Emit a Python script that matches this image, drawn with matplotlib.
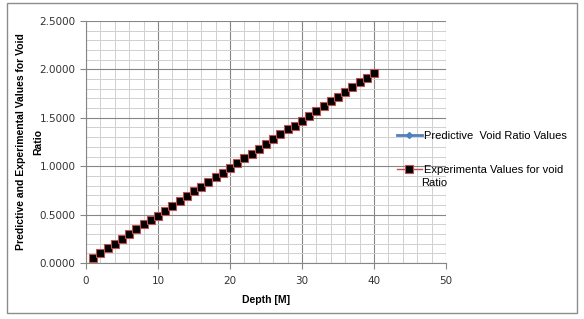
import numpy as np
import matplotlib.pyplot as plt
from matplotlib.patches import Rectangle

depth = list(range(1, 41))
experimental = [0.05, 0.10, 0.15, 0.20, 0.25, 0.30, 0.35, 0.40, 0.44, 0.49,
                0.54, 0.59, 0.64, 0.69, 0.74, 0.79, 0.84, 0.89, 0.93, 0.98,
                1.03, 1.08, 1.13, 1.18, 1.23, 1.28, 1.33, 1.38, 1.42, 1.47,
                1.52, 1.57, 1.62, 1.67, 1.72, 1.77, 1.82, 1.87, 1.91, 1.96]
predictive = [0.04, 0.09, 0.14, 0.19, 0.24, 0.29, 0.34, 0.39, 0.43, 0.48,
              0.53, 0.58, 0.63, 0.68, 0.73, 0.78, 0.83, 0.88, 0.92, 0.97,
              1.02, 1.07, 1.12, 1.17, 1.22, 1.27, 1.32, 1.37, 1.41, 1.46,
              1.51, 1.56, 1.61, 1.66, 1.71, 1.76, 1.81, 1.86, 1.90, 1.95]

plt.rcParams['font.family'] = 'DejaVu Sans'
fig = plt.figure(figsize=(5.84, 3.19), dpi=100)
fig.patches.append(Rectangle((7/584, 6/319), 570/584, 310/319, transform=fig.transFigure,
                             fill=False, edgecolor='#8c8c8c', linewidth=1))
ax = fig.add_axes([86/584, 56/319, 360/584, 242/319])

l1, = ax.plot(depth, predictive, color='#4f81bd', marker='D', markersize=3,
              linewidth=2, label='Predictive  Void Ratio Values', zorder=3)
l2, = ax.plot(depth, experimental, color='#c0504d', marker='s', markersize=6,
              markerfacecolor='black', markeredgecolor='#c0504d', markeredgewidth=0.8,
              linewidth=1, label='Experimenta Values for void', zorder=4)

ax.set_xlim(0, 50)
ax.set_ylim(0, 2.5)
ax.set_xticks(np.arange(0, 51, 10))
ax.set_yticks(np.arange(0, 2.51, 0.5))
ax.set_xticks(np.arange(0, 51, 2), minor=True)
ax.set_yticks(np.arange(0, 2.51, 0.1), minor=True)
ax.set_yticklabels(['%.4f' % v for v in np.arange(0, 2.51, 0.5)])
ax.grid(which='major', color='#868686', linewidth=0.8)
ax.grid(which='minor', color='#d0d0d0', linewidth=0.7)
ax.set_axisbelow(True)
for s in ['top', 'right']:
    ax.spines[s].set_visible(False)
for s in ['left', 'bottom']:
    ax.spines[s].set_color('#868686')
ax.tick_params(which='both', length=0, labelsize=7.5, colors='#333333')
ax.tick_params(which='major', axis='both', length=4, color='#868686', direction='out')
ax.tick_params(axis='x', pad=5)

ax.set_xlabel('Depth [M]', fontsize=7.5, fontweight='bold', labelpad=7,
              family='Liberation Sans')
ax.set_ylabel('Predictive and Experimental Values for Void\nRatio', fontsize=7.5,
              fontweight='bold', family='Liberation Sans', linespacing=1.9)
ax.yaxis.set_label_coords(-0.12, 0.5)

fig.legend(handles=[l1, l2], loc='upper left', bbox_to_anchor=(391/584, 1 - 125/319),
           frameon=False, prop={'family': 'Liberation Sans', 'size': 8},
           labelspacing=2.2, handlelength=2.3, handletextpad=0.2, borderpad=0)
fig.text(421/584, 1 - 183/319, 'Ratio', fontsize=8, family='Liberation Sans',
         va='center', ha='left')

fig.savefig('out.png', dpi=100)
